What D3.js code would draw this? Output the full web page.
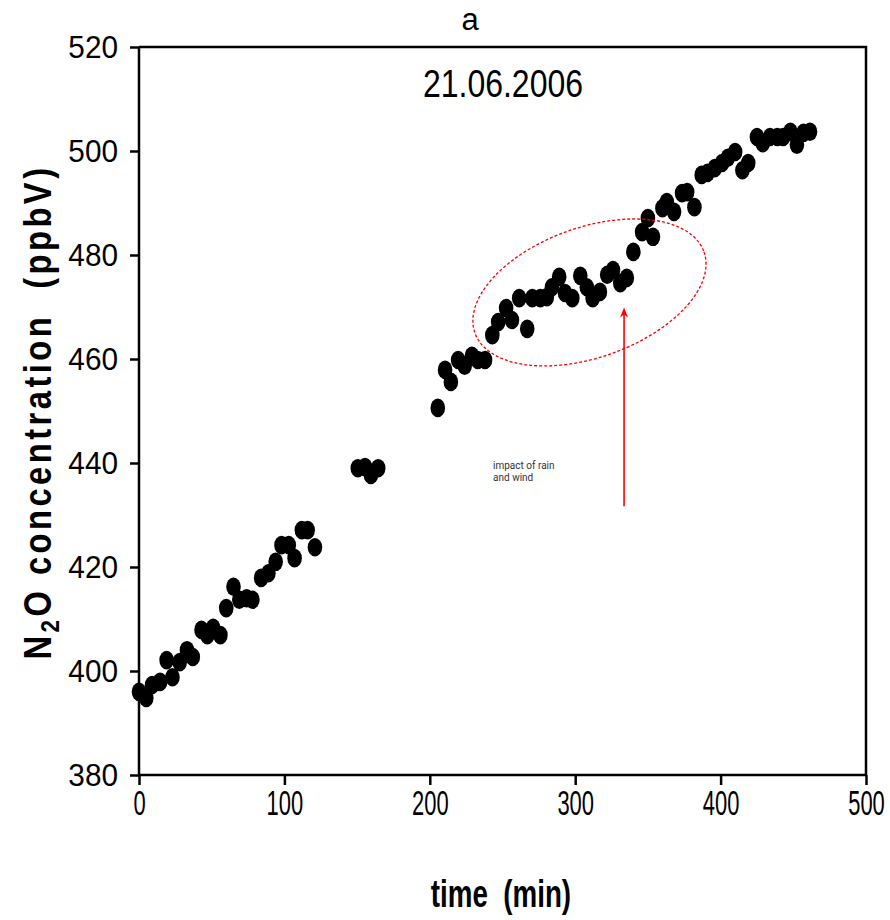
<!DOCTYPE html>
<html>
<head>
<meta charset="utf-8">
<script src="https://cdn.jsdelivr.net/npm/d3@7"></script>
<style>
  body { margin: 0; background: #fff; }
  text { font-family: "Liberation Sans", Arial, sans-serif; fill: #000; }
</style>
</head>
<body>
<svg id="chart" width="890" height="920"></svg>
<script>

// time since start of measurement (min)
const timeMin = [
  0, 5, 9, 14.5, 19, 23, 28, 33, 37, 43, 47, 51, 56, 60, 65, 69, 74, 78, 84, 89,
  94, 98, 103, 107, 112, 116, 121,
  150.5, 155.5, 159.5, 164.5,
  205.5, 210.5, 214.5, 219.5, 224, 229, 233, 238, 243, 247, 252.5, 256.5, 261.5,
  267, 270.5, 276, 280.5, 284, 289, 293, 298, 303.5, 308, 312, 317, 322, 326,
  331, 335.5, 340, 346, 350, 353.5, 360, 363, 368, 373.5, 377, 382, 387, 391,
  396, 401, 405, 410, 415, 419, 425, 429, 434, 439, 443, 448, 452.5, 457, 461.5
];

// N2O concentration (ppbV)
const n2oPpbv = [
  396.0, 394.8, 397.3, 397.9, 402.1, 398.8, 401.7, 404.0, 402.7, 407.9, 406.9,
  408.3, 406.9, 412.1, 416.2, 413.7, 414.0, 413.7, 417.9, 418.8,
  421.0, 424.2, 424.2, 421.7, 427.1, 427.1, 423.8,
  439.0, 439.2, 437.7, 439.0,
  450.6, 457.9, 455.6, 459.8, 458.7, 460.6, 459.8, 459.8, 464.6, 467.1, 469.8,
  467.5, 471.7, 465.8, 471.7, 471.7, 471.9, 473.8, 475.8, 472.7, 471.7, 476.0,
  473.8, 471.7, 472.9, 476.2, 477.1, 474.6, 475.6, 480.6, 484.4, 487.1, 483.5,
  489.0, 490.2, 488.3, 491.9, 492.1, 489.2, 495.4, 495.8, 496.7, 497.7, 498.7,
  499.8, 496.3, 497.7, 502.7, 501.5, 502.7, 502.7, 502.7, 503.7, 501.2, 503.5,
  503.7
];

const xTicks = [0, 100, 200, 300, 400, 500];
const yTicks = [380, 400, 420, 440, 460, 480, 500, 520];

const panelLabel = 'a';
const dateLabel = '21.06.2006';
const noteLines = ['impact of rain', 'and wind'];


const margin = { top: 47, right: 24, bottom: 145, left: 139 };
const width = 890 - margin.left - margin.right;
const height = 920 - margin.top - margin.bottom;

const svg = d3.select('#chart');

const x = d3.scaleLinear().domain([0, 500]).range([0, width]);
const y = d3.scaleLinear().domain([380, 520]).range([height, 0]);

const g = svg.append('g')
  .attr('transform', `translate(${margin.left},${margin.top})`);


/**
 * Squeeze a text node horizontally to a share of its natural width.
 */
function condense(sel, k) {
  sel.each(function() {
    const w = this.getComputedTextLength();
    d3.select(this)
      .attr('textLength', w * k)
      .attr('lengthAdjust', 'spacingAndGlyphs');
  });
}


// box top and right
g.append('path')
  .attr('d', `M0,0H${width}V${height}`)
  .attr('fill', 'none')
  .attr('stroke', '#000')
  .attr('stroke-width', 2.5);

// x axis
const xAxis = g.append('g')
  .attr('transform', `translate(0,${height})`)
  .call(d3.axisBottom(x).tickValues(xTicks).tickSize(10).tickPadding(4));

// narrow labels: scale round the tick centre so the box shrinks too
xAxis.selectAll('text')
  .style('font-size', '36px')
  .attr('transform', 'scale(0.61,1)');

// y axis
const yAxis = g.append('g')
  .call(d3.axisLeft(y).tickValues(yTicks).tickSize(9).tickPadding(12));

yAxis.selectAll('text')
  .style('font-size', '32px')
  .call(condense, 0.93);

g.selectAll('.domain, .tick line')
  .attr('stroke', '#000')
  .attr('stroke-width', 2.5);

g.selectAll('.domain')
  .attr('d', function() {
    return d3.select(this.parentNode).attr('transform')
      ? `M0,0H${width}`
      : `M0,0V${height}`;
  });


// data points
g.append('g')
  .selectAll('ellipse')
  .data(timeMin.map((t, i) => ({ t: t, v: n2oPpbv[i] })))
  .join('ellipse')
  .attr('cx', d => x(d.t))
  .attr('cy', d => y(d.v))
  .attr('rx', 7.3)
  .attr('ry', 9.3)
  .attr('fill', '#000');


// annotation: dashed ellipse round the rain period
g.append('ellipse')
  .attr('transform', `translate(${x(309.8)},${y(472.8)}) rotate(-19.5)`)
  .attr('rx', 121.5)
  .attr('ry', 65)
  .attr('fill', 'none')
  .attr('stroke', '#f00')
  .attr('stroke-width', 1.3)
  .attr('stroke-dasharray', '3,2');

// annotation: arrow
const ax = x(333.6);
g.append('line')
  .attr('x1', ax).attr('x2', ax)
  .attr('y1', y(431.7)).attr('y2', y(469.4))
  .attr('stroke', '#f00')
  .attr('stroke-width', 1.6);

g.append('path')
  .attr('d', `M${ax},${y(469.9)}l-4,10l4,-3l4,3z`)
  .attr('fill', '#f00');

g.append('text')
  .attr('x', x(243.5))
  .attr('y', y(438.8))
  .style('font-family', 'Roboto, sans-serif')
  .style('font-size', '10px')
  .style('fill', '#333')
  .selectAll('tspan')
  .data(noteLines)
  .join('tspan')
  .attr('x', x(243.5))
  .attr('dy', (d, i) => i ? 12 : 0)
  .text(d => d);


// titles
svg.append('text')
  .attr('x', 470)
  .attr('y', 30)
  .attr('text-anchor', 'middle')
  .style('font-size', '31px')
  .text(panelLabel);

svg.append('text')
  .attr('x', 503)
  .attr('y', 97)
  .attr('text-anchor', 'middle')
  .style('font-size', '39px')
  .text(dateLabel)
  .call(condense, 0.82);

svg.append('text')
  .attr('x', 501)
  .attr('y', 907)
  .attr('text-anchor', 'middle')
  .style('font-size', '38px')
  .style('font-weight', 'bold')
  .text('time\u00a0 (min)')
  .call(condense, 0.73);

const yTitle = svg.append('text')
  .attr('transform', 'translate(51,412) rotate(-90)')
  .attr('text-anchor', 'middle')
  .style('font-size', '38px')
  .style('font-weight', 'bold')
  .style('letter-spacing', '4px');

yTitle.append('tspan').text('N');
yTitle.append('tspan').attr('dy', 8).style('font-size', '26px').text('2');
yTitle.append('tspan').attr('dy', -8).text('O concentration\u00a0 (ppbV)');

yTitle
  .attr('textLength', 495)
  .attr('lengthAdjust', 'spacingAndGlyphs');

</script>
</body>
</html>
